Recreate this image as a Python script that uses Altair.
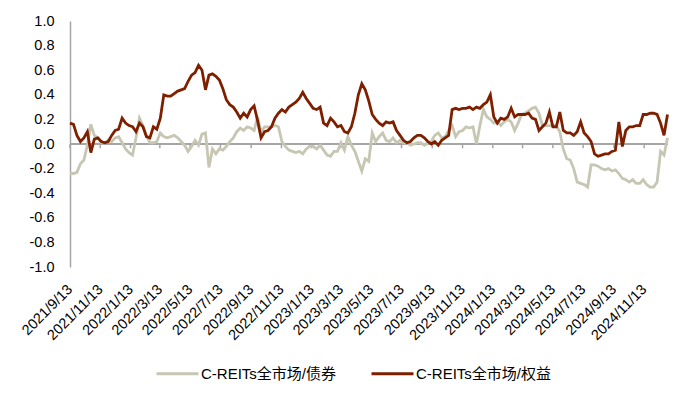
import altair as alt
import pandas as pd

series_names = ["C-REITs全市场/债券", "C-REITs全市场/权益"]

# weekly observations starting 2021-09-13
start_date = "2021-09-13"

equity = [
    0.17, 0.16, 0.07, 0.02, 0.05, 0.10, -0.07, 0.04, 0.05, 0.02,
    0.01, 0.02, 0.07, 0.11, 0.12, 0.21, 0.17, 0.15, 0.14, 0.10,
    0.17, 0.14, 0.06, 0.05, 0.14, 0.12, 0.21, 0.40, 0.39, 0.39,
    0.41, 0.43, 0.44, 0.45, 0.51, 0.56, 0.58, 0.64, 0.60, 0.44,
    0.56, 0.57, 0.55, 0.52, 0.45, 0.36, 0.32, 0.30, 0.26, 0.21,
    0.25, 0.22, 0.28, 0.31, 0.19, 0.05, 0.10, 0.11, 0.14, 0.21,
    0.25, 0.28, 0.26, 0.30, 0.32, 0.34, 0.37, 0.42, 0.37, 0.33,
    0.29, 0.28, 0.30, 0.17, 0.15, 0.21, 0.18, 0.14, 0.15, 0.10,
    0.09, 0.14, 0.25, 0.40, 0.49, 0.44, 0.35, 0.24, 0.20, 0.17,
    0.15, 0.18, 0.17, 0.18, 0.11, 0.07, 0.03, 0.01, 0.02, 0.05,
    0.07, 0.07, 0.05, 0.02, 0.00, 0.02, -0.01, 0.03, 0.05, 0.07,
    0.28, 0.29, 0.28, 0.29, 0.29, 0.30, 0.28, 0.30, 0.29, 0.32,
    0.34, 0.40, 0.22, 0.17, 0.21, 0.20, 0.22, 0.29, 0.22, 0.24,
    0.24, 0.24, 0.25, 0.21, 0.20, 0.11, 0.14, 0.17, 0.26, 0.14,
    0.14, 0.26, 0.11, 0.09, 0.09, 0.07, 0.10, 0.18, 0.09, 0.06,
    0.02, -0.08, -0.10, -0.09, -0.08, -0.08, -0.06, -0.05, 0.18, -0.02,
    0.11, 0.14, 0.14, 0.15, 0.15, 0.24, 0.24, 0.25, 0.25, 0.24,
    0.17, 0.07, 0.24,
]

bond = [
    -0.24, -0.24, -0.23, -0.16, -0.13, -0.01, 0.16, 0.07, 0.05, 0.01,
    0.01, 0.03, 0.02, 0.05, 0.06, 0.01, -0.04, -0.07, -0.09, 0.05,
    0.21, 0.15, 0.07, 0.01, 0.01, 0.02, 0.09, 0.06, 0.05, 0.06,
    0.07, 0.05, 0.02, -0.01, -0.06, -0.02, 0.03, -0.01, 0.08, 0.09,
    -0.19, -0.04, -0.08, -0.04, -0.05, -0.02, 0.02, 0.05, 0.10, 0.13,
    0.11, 0.14, 0.13, 0.11, 0.22, 0.10, 0.14, 0.14, 0.14, 0.15,
    0.14, 0.02, -0.02, -0.05, -0.06, -0.07, -0.06, -0.08, -0.04, -0.02,
    -0.02, -0.04, -0.01, -0.05, -0.09, -0.10, -0.06, -0.06, 0.01, -0.05,
    0.06, -0.01, -0.06, -0.14, -0.22, -0.12, -0.14, 0.09, 0.02, 0.06,
    0.09, 0.03, 0.02, 0.05, 0.01, 0.03, 0.01, 0.01, -0.01, 0.00,
    0.01, 0.01, -0.01, 0.01, 0.02, 0.07, 0.09, 0.05, 0.06, 0.11,
    0.15, 0.06, 0.10, 0.11, 0.14, 0.13, 0.14, 0.00, 0.15, 0.28,
    0.22, 0.20, 0.17, 0.18, 0.15, 0.18, 0.20, 0.18, 0.11, 0.17,
    0.24, 0.25, 0.27, 0.29, 0.30, 0.25, 0.15, 0.15, 0.15, 0.15,
    0.15, 0.10, -0.04, -0.12, -0.13, -0.20, -0.31, -0.32, -0.33, -0.35,
    -0.17, -0.17, -0.18, -0.20, -0.21, -0.20, -0.22, -0.21, -0.24, -0.28,
    -0.29, -0.31, -0.29, -0.32, -0.32, -0.29, -0.33, -0.35, -0.35, -0.31,
    -0.06, -0.09, 0.05,
]

tick_dates = [
    (2021, 9, 13), (2021, 11, 13), (2022, 1, 13), (2022, 3, 13), (2022, 5, 13),
    (2022, 7, 13), (2022, 9, 13), (2022, 11, 13), (2023, 1, 13), (2023, 3, 13),
    (2023, 5, 13), (2023, 7, 13), (2023, 9, 13), (2023, 11, 13), (2024, 1, 13),
    (2024, 3, 13), (2024, 5, 13), (2024, 7, 13), (2024, 9, 13), (2024, 11, 13),
]
y_ticks = [-1.0, -0.8, -0.6, -0.4, -0.2, 0.0, 0.2, 0.4, 0.6, 0.8, 1.0]

colors = ["#C6C6B2", "#7E1F00"]

dates = pd.date_range(start_date, periods=len(equity), freq="7D")
df = pd.concat([
    pd.DataFrame({"date": dates, "value": bond, "series": series_names[0], "ord": 0}),
    pd.DataFrame({"date": dates, "value": equity, "series": series_names[1], "ord": 1}),
])
ticks_df = pd.DataFrame({"date": [pd.Timestamp(y, m, d) for (y, m, d) in tick_dates]})

font = "Liberation Sans, Arial, Noto Sans CJK SC"

x_scale = alt.Scale(domain=[alt.DateTime(year=2021, month=9, date=13),
                            alt.DateTime(year=2024, month=12, date=31)], nice=False)
y_scale = alt.Scale(domain=[-1, 1], nice=False)

x_axis = alt.Axis(
    values=[alt.DateTime(year=y, month=m, date=d) for (y, m, d) in tick_dates],
    format="%Y/%-m/%-d", labelAngle=-45, labelAlign="right", labelBaseline="middle",
    labelPadding=20, ticks=False, domain=False, grid=False, title=None,
    labelFontSize=14.5, labelColor="#000000", labelFont=font, labelOverlap=False,
    labelFlush=False, labelBound=False,
)
y_axis = alt.Axis(
    values=y_ticks, labelExpr="replace(format(datum.value, '.1f'), '−', '-')",
    ticks=False, grid=False, title=None, domainColor="#A6A6A6", domainWidth=1.5,
    labelFontSize=14.5, labelColor="#000000", labelFont=font, labelPadding=16,
    labelOverlap=False, labelFlush=False, labelBound=False,
)

lines = alt.Chart(df).mark_line(strokeWidth=2.8, interpolate="linear").encode(
    x=alt.X("date:T", scale=x_scale, axis=x_axis),
    y=alt.Y("value:Q", scale=y_scale, axis=y_axis),
    color=alt.Color("series:N", scale=alt.Scale(domain=series_names, range=colors),
                    sort=series_names,
                    legend=alt.Legend(title=None, orient="none", legendX=85, legendY=330,
                                      direction="horizontal", symbolType="stroke",
                                      symbolSize=1764, symbolStrokeWidth=3,
                                      labelFontSize=15, labelFont=font, labelColor="#000000",
                                      columnPadding=28, labelOffset=1)),
    order=alt.Order("ord:Q"),
)

zero_line = alt.Chart(ticks_df).mark_rule(color="#A6A6A6", strokeWidth=2).encode(
    y=alt.Y(datum=0, scale=y_scale, axis=y_axis), x=alt.value(0), x2=alt.value(598)
)
tick_marks = alt.Chart(ticks_df).mark_rule(color="#A6A6A6", strokeWidth=1.5).encode(
    x=alt.X("date:T", scale=x_scale, axis=x_axis),
    y=alt.Y(datum=0, scale=y_scale, axis=y_axis), y2=alt.Y2(datum=-0.035),
)

chart = alt.layer(zero_line, tick_marks, lines).properties(
    width=598, height=246,
    padding={"left": 62, "top": 13, "right": 22, "bottom": 118},
    autosize=alt.AutoSizeParams(type="none"),
).configure(font=font, view=alt.ViewConfig(stroke=None))

chart.save("out.html", embed_options={"renderer": "svg", "actions": False})
